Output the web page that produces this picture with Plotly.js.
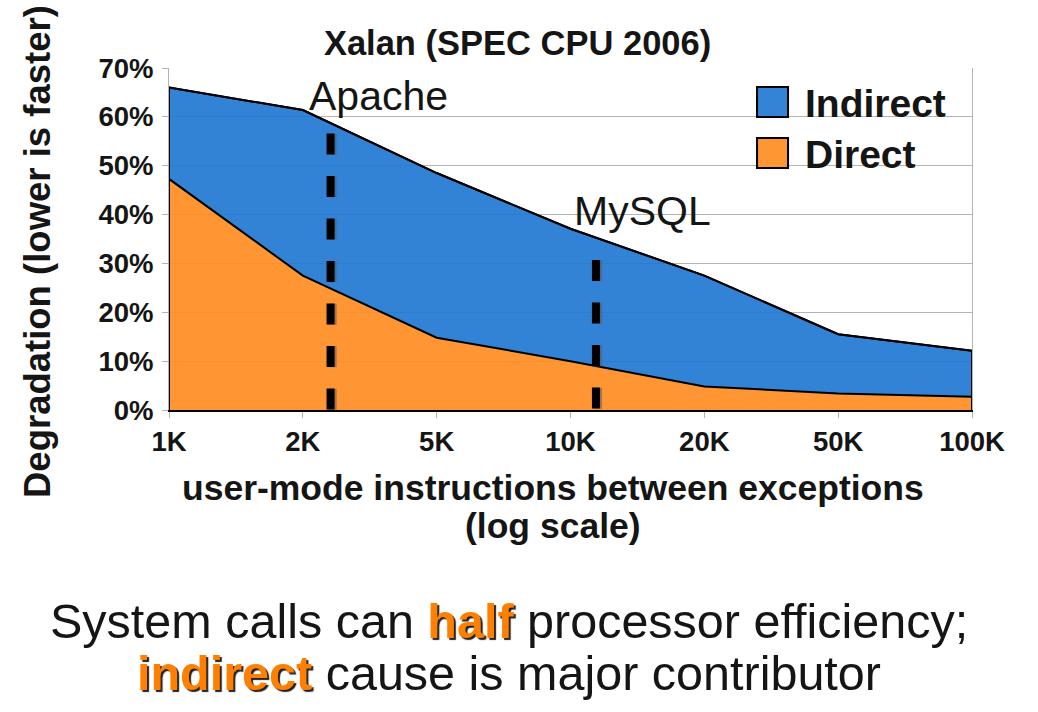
<!DOCTYPE html>
<html>
<head>
<meta charset="utf-8">
<script src="https://cdn.plot.ly/plotly-3.0.1.min.js"></script>
<style>html,body{margin:0;padding:0;background:#fff;}#chart{width:1038px;height:712px;}</style>
</head>
<body>
<div id="chart"></div>
<script>
// ---- data ----
const categories = ['1K', '2K', '5K', '10K', '20K', '50K', '100K'];
const seriesNames = ['Direct', 'Indirect'];
const directVals = [47.3, 27.5, 14.8, 10.0, 4.8, 3.4, 2.7];
const indirectVals = [18.7, 33.9, 33.7, 27.1, 22.7, 12.1, 9.4];
const markerNames = ['Apache', 'MySQL'];
const markerPos = [1.207, 3.19];      // position along category axis (index units)
const markerTop = [56.6, 30.7];       // top of dashed line (%)
const markerLabelY = [64.3, 40.8];    // label centre (%)
const titleText = 'Xalan (SPEC CPU 2006)';
const yTitleText = 'Degradation (lower is faster)';
const xTitleLines = ['user-mode instructions between exceptions', '(log scale)'];
const captionLines = [
  'System calls can <HL>half</HL> processor efficiency;',
  '<HL>indirect</HL> cause is major contributor'
];

// ---- styling ----
const FONT = 'Liberation Sans, Arial, Helvetica, sans-serif';
const TXT = '#151515';
const BLUE = 'rgba(33,120,210,0.92)';
const ORANGE = 'rgba(255,141,34,0.92)';
const BLUE_SOLID = '#3383D6';
const ORANGE_SOLID = '#FF9634';
const GRID = '#b3b3b3';

const totals = directVals.map((d, i) => d + indirectVals[i]);

const traces = [
  {
    x: categories, y: directVals, name: seriesNames[0], type: 'scatter', mode: 'lines',
    stackgroup: 'deg', fillcolor: ORANGE, line: {color: '#000', width: 2}, hoverinfo: 'x+y+name'
  },
  {
    x: categories, y: indirectVals, name: seriesNames[1], type: 'scatter', mode: 'lines',
    stackgroup: 'deg', fillcolor: BLUE, line: {color: '#000', width: 2}, hoverinfo: 'x+y+name'
  },
  {
    // outline of the stacked area (including the vertical end edges)
    x: [categories[0]].concat(categories, [categories[categories.length - 1]]),
    y: [0].concat(totals, [0]),
    type: 'scatter', mode: 'lines', line: {color: '#000', width: 2},
    hoverinfo: 'skip', showlegend: false
  }
];

const shapes = [];
const annotations = [];

markerNames.forEach((name, i) => {
  // soft shadow
  shapes.push({
    type: 'line', xref: 'x', yref: 'y', layer: 'above',
    x0: markerPos[i] + 0.016, x1: markerPos[i] + 0.016, y0: markerTop[i] - 0.05, y1: -0.05,
    line: {color: 'rgba(90,90,90,0.55)', width: 8, dash: '21px,21.5px'}
  });
  shapes.push({
    type: 'line', xref: 'x', yref: 'y', layer: 'above',
    x0: markerPos[i], x1: markerPos[i], y0: markerTop[i], y1: 0,
    line: {color: '#000', width: 8, dash: '21px,21.5px'}
  });
  annotations.push({
    xref: 'x', yref: 'y', x: markerPos[i], y: markerLabelY[i], xshift: -24,
    xanchor: 'left', yanchor: 'middle', showarrow: false, text: name,
    font: {family: FONT, size: 41, color: TXT}
  });
});

// manual legend (large square swatches)
const legendItems = [
  {name: seriesNames[1], color: BLUE_SOLID, y0: 0.8567, y1: 0.9444, ty: 0.8953},
  {name: seriesNames[0], color: ORANGE_SOLID, y0: 0.7076, y1: 0.7953, ty: 0.7462}
];
legendItems.forEach(it => {
  shapes.push({
    type: 'rect', xref: 'paper', yref: 'paper', layer: 'above',
    x0: 0.7323, x1: 0.7709, y0: it.y0, y1: it.y1,
    fillcolor: it.color, line: {color: '#000', width: 2}
  });
  annotations.push({
    xref: 'paper', yref: 'paper', x: 0.7895, y: it.ty, xanchor: 'left', yanchor: 'middle',
    showarrow: false, text: '<b>' + it.name + '</b>',
    font: {family: FONT, size: 39, color: TXT}
  });
});

// y-axis title
annotations.push({
  xref: 'paper', yref: 'paper', x: -0.1631, y: 0.4620, xanchor: 'center', yanchor: 'middle',
  textangle: -90, showarrow: false, text: '<b>' + yTitleText + '</b>',
  font: {family: FONT, size: 36.5, color: TXT}
});
// x-axis title (two lines)
const xTitleY = [-0.2270, -0.3380];
xTitleLines.forEach((t, i) => {
  annotations.push({
    xref: 'paper', yref: 'paper', x: 0.4776, y: xTitleY[i], xanchor: 'center', yanchor: 'middle',
    showarrow: false, text: '<b>' + t + '</b>',
    font: {family: FONT, size: 35.5, color: TXT}
  });
});
// caption
const captionY = [-0.6180, -0.7700];
captionLines.forEach((t, i) => {
  const html = t.replace(/<HL>(.*?)<\/HL>/g,
    '<span style="color:#FF7F00;text-shadow:2px 2px 1px #222;"><b>$1</b></span>');
  annotations.push({
    xref: 'paper', yref: 'paper', x: 0.4228, y: captionY[i], xanchor: 'center', yanchor: 'middle',
    showarrow: false, text: html,
    font: {family: FONT, size: 48.5, color: TXT}
  });
});

const layout = {
  width: 1038, height: 712,
  margin: {l: 169, r: 66, t: 68, b: 302, pad: 0},
  paper_bgcolor: '#fff', plot_bgcolor: '#fff',
  showlegend: false,
  title: {
    text: '<b>' + titleText + '</b>', xref: 'container', yref: 'container',
    x: 0.4986, y: 0.9400, xanchor: 'center', yanchor: 'middle',
    font: {family: FONT, size: 34.5, color: TXT}
  },
  xaxis: {
    type: 'category', range: [0, categories.length - 1],
    showgrid: false, zeroline: false,
    showline: true, linecolor: '#000', linewidth: 2, mirror: false,
    ticks: 'outside', ticklen: 6, tickcolor: GRID, tickwidth: 1,
    tickfont: {family: FONT, size: 27.5, color: TXT, weight: 'bold'},
    fixedrange: true
  },
  yaxis: {
    range: [0, 70], dtick: 10, ticksuffix: '%',
    showgrid: true, gridcolor: GRID, gridwidth: 1, zeroline: false,
    showline: true, linecolor: GRID, linewidth: 1, mirror: true,
    ticks: 'outside', ticklen: 6, tickcolor: GRID, tickwidth: 1,
    ticklabelstandoff: 3,
    tickfont: {family: FONT, size: 27.5, color: TXT, weight: 'bold'},
    fixedrange: true
  },
  shapes: shapes,
  annotations: annotations
};

Plotly.newPlot('chart', traces, layout, {displayModeBar: false, staticPlot: true});
</script>
</body>
</html>
